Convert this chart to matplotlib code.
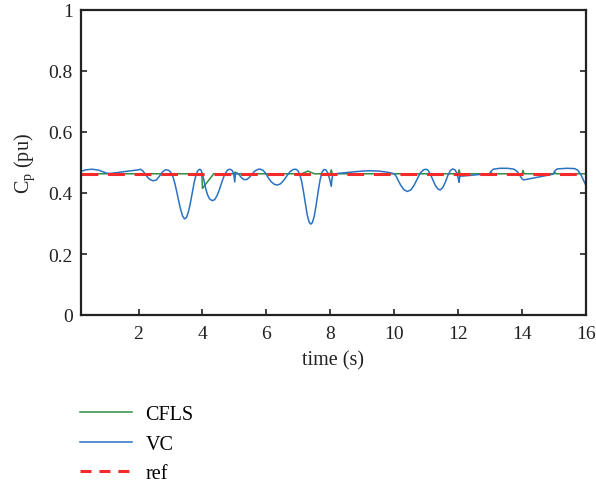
import matplotlib
matplotlib.use("Agg")
import matplotlib.pyplot as plt

plt.rcParams['font.family'] = ['Liberation Serif', 'DejaVu Serif']
plt.rcParams['mathtext.fontset'] = 'custom'
plt.rcParams['mathtext.rm'] = 'Liberation Serif'

# VC series (time s, Cp pu)
vc_t = [0.2, 0.35, 0.55, 0.75, 0.9, 1.0, 1.1, 1.4, 1.7, 2.0, 2.06, 2.12, 2.2, 2.28, 2.36, 2.46, 2.56, 2.66, 2.76, 2.84,
        2.88, 2.95, 3.02, 3.08, 3.14, 3.20, 3.26, 3.32, 3.38, 3.44, 3.50, 3.56, 3.62, 3.68, 3.74, 3.80, 3.86, 3.92,
        3.96, 4.0, 4.05, 4.10, 4.16, 4.22, 4.30, 4.38, 4.46, 4.54, 4.62, 4.70, 4.78, 4.86, 4.93, 4.98, 5.01, 5.03,
        5.08, 5.15, 5.22, 5.30, 5.38, 5.46, 5.55, 5.65, 5.75, 5.82, 5.90, 5.98, 6.06, 6.14, 6.24, 6.34, 6.44, 6.54,
        6.64, 6.74, 6.84, 6.92, 6.98, 7.04, 7.10, 7.16, 7.22, 7.28, 7.34, 7.39, 7.44, 7.50, 7.56, 7.62, 7.68, 7.74,
        7.80, 7.86, 7.92, 7.98, 8.03, 8.05, 8.08, 8.3, 8.6, 8.9, 9.2, 9.5, 9.8, 10.0, 10.06, 10.12, 10.2, 10.3,
        10.41, 10.52, 10.62, 10.72, 10.82, 10.92, 11.0, 11.06, 11.14, 11.22, 11.3, 11.38, 11.44, 11.52, 11.6, 11.68,
        11.76, 11.83, 11.9, 11.96, 12.01, 12.03, 12.05, 12.3, 12.6, 12.98, 13.02, 13.1, 13.3, 13.55, 13.75, 13.85,
        13.93, 14.0, 14.05, 14.5, 14.98, 15.02, 15.1, 15.4, 15.65, 15.75, 15.85, 15.93, 16.0]
vc_v = [0.471, 0.476, 0.478, 0.475, 0.469, 0.465, 0.464, 0.468, 0.472, 0.476, 0.478, 0.474, 0.464, 0.452, 0.444, 0.440, 0.443, 0.456, 0.470, 0.476,
        0.476, 0.474, 0.466, 0.452, 0.430, 0.402, 0.372, 0.345, 0.324, 0.315, 0.320, 0.338, 0.366, 0.400, 0.434, 0.460, 0.474, 0.478,
        0.474, 0.462, 0.440, 0.415, 0.394, 0.381, 0.375, 0.378, 0.392, 0.414, 0.440, 0.462, 0.475, 0.478, 0.474, 0.462, 0.436, 0.462,
        0.466, 0.460, 0.450, 0.444, 0.444, 0.450, 0.462, 0.473, 0.478, 0.478, 0.474, 0.464, 0.450, 0.438, 0.429, 0.426, 0.430, 0.441,
        0.456, 0.470, 0.477, 0.478, 0.474, 0.462, 0.440, 0.405, 0.365, 0.327, 0.304, 0.298, 0.303, 0.325, 0.362, 0.405, 0.443, 0.468,
        0.477, 0.476, 0.466, 0.445, 0.422, 0.445, 0.462, 0.465, 0.468, 0.471, 0.473, 0.472, 0.468, 0.463, 0.455, 0.442, 0.426, 0.411,
        0.405, 0.410, 0.425, 0.446, 0.466, 0.476, 0.478, 0.474, 0.460, 0.440, 0.422, 0.412, 0.410, 0.418, 0.436, 0.458,
        0.474, 0.479, 0.476, 0.465, 0.445, 0.435, 0.455, 0.457, 0.460, 0.463, 0.470, 0.478, 0.481, 0.481, 0.478, 0.470,
        0.458, 0.446, 0.443, 0.452, 0.462, 0.472, 0.479, 0.481, 0.480, 0.474, 0.458, 0.440, 0.424]

# CFLS series
cfls_t = [0.2, 3.98, 4.0, 4.35, 5.0, 5.02, 5.05, 7.1, 7.3, 7.5, 8.0, 8.03, 8.06, 12.0, 12.03, 12.06,
          13.0, 13.03, 13.06, 14.0, 14.03, 14.06, 15.0, 15.03, 15.06, 16.0]
cfls_v = [0.463, 0.463, 0.415, 0.463, 0.463, 0.469, 0.463, 0.463, 0.472, 0.463, 0.463, 0.476, 0.463, 0.463, 0.476, 0.463,
          0.463, 0.468, 0.463, 0.463, 0.474, 0.463, 0.463, 0.468, 0.463, 0.463]

# reference
ref_t = [0.2, 16.0]
ref_v = [0.463, 0.463]

xticks = [2, 4, 6, 8, 10, 12, 14, 16]
yticks = [0, 0.2, 0.4, 0.6, 0.8, 1]
yticklabels = ['0', '0.2', '0.4', '0.6', '0.8', '1']

fig = plt.figure(figsize=(5.96, 4.85), dpi=100)
ax = fig.add_axes([81/596, 1-316/485, (586-81)/596, (316-11)/485])

l1, = ax.plot(cfls_t, cfls_v, color='#2f8f45', lw=1.1, label='CFLS')
l2, = ax.plot(vc_t, vc_v, color='#2a72c0', lw=1.1, label='VC')
l3, = ax.plot(ref_t, ref_v, color='#f52a2a', lw=2.2, ls=(0, (5.5, 3.2)), label='ref')

ax.set_xlim(0.2, 16)
ax.set_ylim(0, 1)
ax.set_xticks(xticks)
ax.set_yticks(yticks)
ax.set_yticklabels(yticklabels)
ax.tick_params(direction='in', length=4, width=1.2, labelsize=14, colors='#222222',
               top=False, right=True)
ax.tick_params(axis='x', pad=7)
ax.tick_params(axis='y', pad=6)
for s in ax.spines.values():
    s.set_linewidth(1.6)
    s.set_color('#222222')
ax.set_xlabel('time (s)', fontsize=14.5, color='#222222', labelpad=6)
ax.set_ylabel(r'C$_\mathrm{p}$ (pu)', fontsize=14.5, color='#222222', labelpad=8)

leg = fig.legend(handles=[l1, l2, l3], loc='upper left', bbox_to_anchor=(62/596, 1-388/485),
                 frameon=False, fontsize=14.5, handlelength=2.6, handletextpad=0.65, labelspacing=0.52)
leg.get_lines()[2].set_dashes([3.6, 2.6])

fig.savefig('out.png', dpi=100)
